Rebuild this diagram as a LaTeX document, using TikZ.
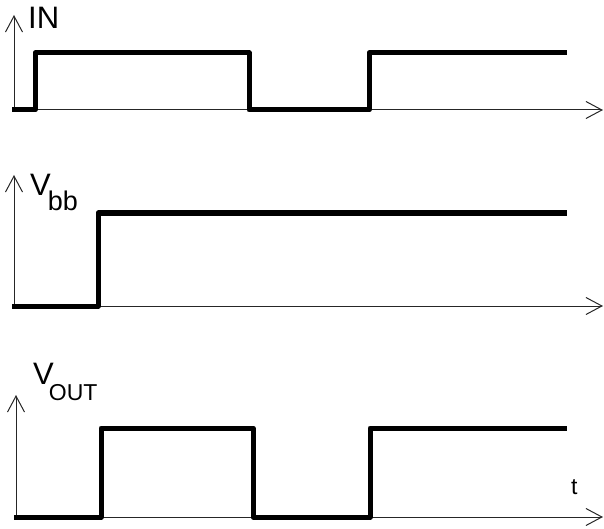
\documentclass[tikz,border=0pt]{standalone}
\usepackage{fontspec}
\setmainfont{Liberation Sans}
\usetikzlibrary{arrows.meta}
\tikzset{
  axis/.style={draw=black!85, line width=1pt, -{Straight Barb[length=16pt,width=17pt,line width=1pt]}},
  signal/.style={draw=black, line width=5pt, line join=round, line cap=butt},
  lbl/.style={inner sep=0pt, anchor=base west},
}
\newcommand{\bigf}{\fontsize{31pt}{33pt}\selectfont}
\newcommand{\subf}{\fontsize{27pt}{29pt}\selectfont}
\newcommand{\smf}{\fontsize{23pt}{25pt}\selectfont}
\begin{document}
\begin{tikzpicture}[x=1pt,y=-1pt]
\useasboundingbox (0,0) rectangle (604,529);
% ---- panel 1: IN
\coordinate (o1) at (14,110);
\coordinate (y1) at (14,15);
\coordinate (x1) at (603,110);
\draw[axis] (o1) -- (y1);
\draw[axis] (o1) -- (x1);
\draw[signal] (12,110) -- (35,110) -- (35,53) -- (249,53) -- (249,110) -- (369,110) -- (369,53) -- (567,53);
\node[lbl, font=\bigf] (lin) at (28,29) {IN};
% ---- panel 2: Vbb
\coordinate (o2) at (14,306);
\coordinate (y2) at (14,175);
\coordinate (x2) at (603,306);
\draw[axis] (o2) -- (y2);
\draw[axis] (o2) -- (x2);
\draw[signal] (12,306) -- (98,306) -- (98,213) -- (567,213);
\node[lbl, font=\bigf] (lvbb) at (30,196) {V\hspace{-3pt}\raisebox{-15pt}{\subf bb}};
% ---- panel 3: VOUT
\coordinate (o3) at (16,517);
\coordinate (y3) at (16,395);
\coordinate (x3) at (603,517);
\draw[axis] (o3) -- (y3);
\draw[axis] (o3) -- (x3);
\draw[signal] (14,517) -- (101,517) -- (101,428) -- (253,428) -- (253,517) -- (370,517) -- (370,428) -- (567,428);
\node[lbl, font=\bigf] (lvout) at (33,384) {V\hspace{-5pt}\raisebox{-16pt}{\smf OUT}};
\node[lbl, font=\smf] (lt) at (571,494) {t};
\end{tikzpicture}
\end{document}
